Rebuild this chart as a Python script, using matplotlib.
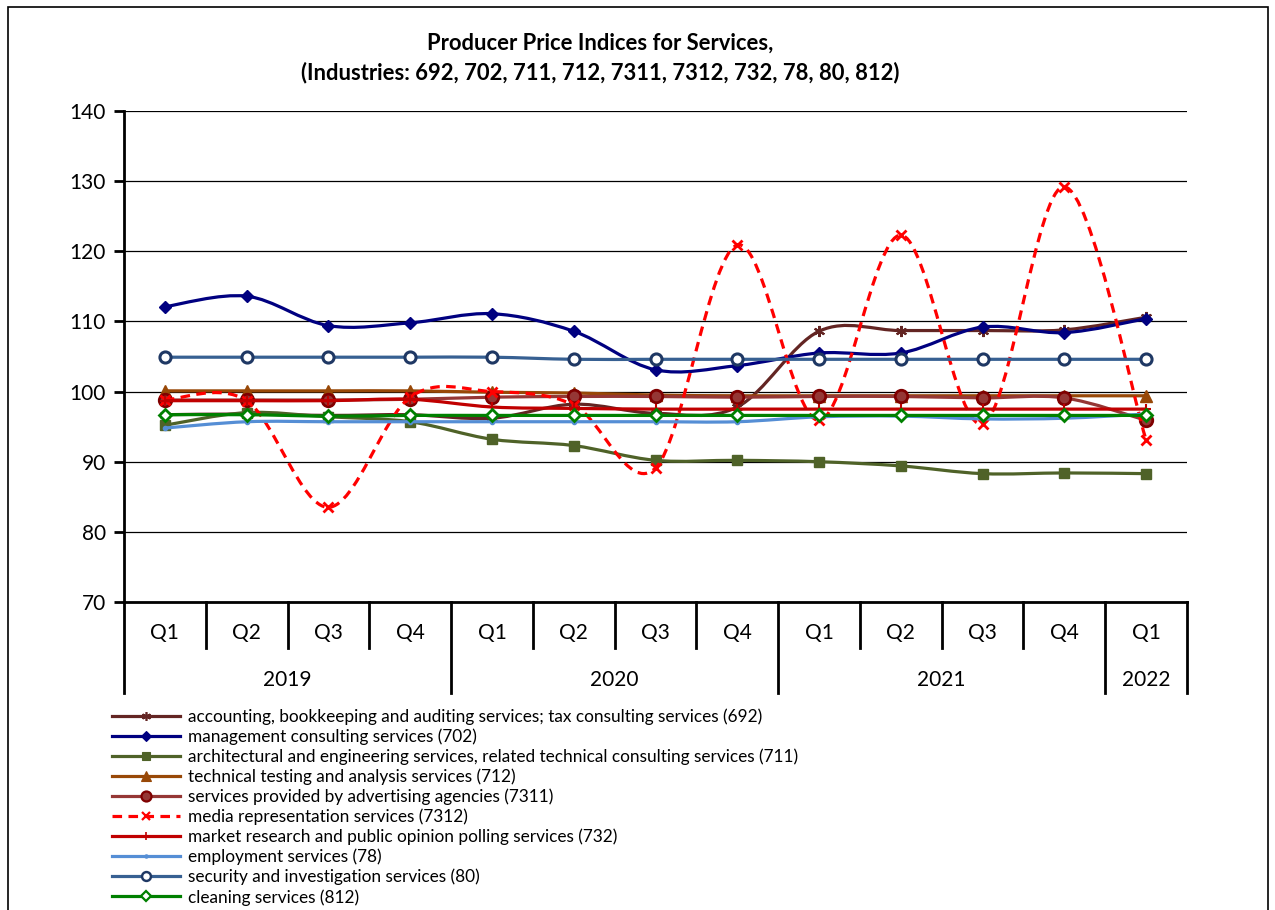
import matplotlib
matplotlib.use("Agg")
import matplotlib.pyplot as plt
from matplotlib.path import Path
from matplotlib.patches import PathPatch, Rectangle
from matplotlib.lines import Line2D
import matplotlib.transforms as mtransforms
import numpy as np

plt.rcParams['font.family'] = ['Lato', 'DejaVu Sans']

quarters = ["Q1", "Q2", "Q3", "Q4", "Q1", "Q2", "Q3", "Q4", "Q1", "Q2", "Q3", "Q4", "Q1"]
years = ["2019", "2020", "2021", "2022"]
year_spans = [4, 4, 4, 1]

s692 = [96.7, 96.8, 96.6, 96.7, 96.2, 98.2, 96.9, 97.8, 108.6, 108.7, 108.7, 108.8, 110.6]
s702 = [112.1, 113.6, 109.4, 109.8, 111.1, 108.6, 103.1, 103.7, 105.5, 105.5, 109.2, 108.4, 110.4]
s711 = [95.2, 97.0, 96.4, 95.7, 93.2, 92.3, 90.2, 90.2, 90.0, 89.4, 88.3, 88.4, 88.3]
s712 = [100.1, 100.1, 100.1, 100.1, 99.9, 99.8, 99.5, 99.4, 99.4, 99.4, 99.4, 99.4, 99.4]
s7311 = [98.8, 98.8, 98.8, 98.9, 99.2, 99.3, 99.3, 99.2, 99.3, 99.3, 99.1, 99.1, 95.9]
s7312 = [98.8, 98.7, 83.5, 99.2, 100.0, 98.1, 89.1, 120.9, 95.9, 122.3, 95.4, 129.2, 93.1]
s732 = [98.7, 98.7, 98.7, 98.9, 97.8, 97.6, 97.5, 97.5, 97.5, 97.5, 97.5, 97.5, 97.5]
s78 = [94.8, 95.7, 95.7, 95.7, 95.7, 95.7, 95.7, 95.7, 96.4, 96.5, 96.1, 96.2, 96.8]
s80 = [104.9, 104.9, 104.9, 104.9, 104.9, 104.6, 104.6, 104.6, 104.6, 104.6, 104.6, 104.6, 104.6]
s812 = [96.7, 96.7, 96.5, 96.6, 96.6, 96.6, 96.6, 96.6, 96.6, 96.6, 96.6, 96.6, 96.6]

labels = [
    "accounting, bookkeeping and auditing services; tax consulting services (692)",
    "management consulting services (702)",
    "architectural and engineering services, related technical consulting services (711)",
    "technical testing and analysis services (712)",
    "services provided by advertising agencies (7311)",
    "media representation services (7312)",
    "market research and public opinion polling services (732)",
    "employment services (78)",
    "security and investigation services (80)",
    "cleaning services (812)",
]

series = [s692, s702, s711, s712, s7311, s7312, s732, s78, s80, s812]

styles = [
    dict(color="#632523", ls="-", marker=(6, 2, 0), ms=8, mfc="#632523", mec="#632523", mew=1.5),
    dict(color="#000080", ls="-", marker="D", ms=6, mfc="#000080", mec="#000080", mew=1),
    dict(color="#4F6228", ls="-", marker="s", ms=7, mfc="#4F6228", mec="#4F6228", mew=1),
    dict(color="#984807", ls="-", marker="^", ms=9, mfc="#984807", mec="#984807", mew=1),
    dict(color="#953735", ls="-", marker="o", ms=9, mfc="#953735", mec="#7F0000", mew=2),
    dict(color="#FF0000", ls=(0, (3, 2)), marker="x", ms=7, mfc="#FF0000", mec="#FF0000", mew=2),
    dict(color="#C00000", ls="-", marker="+", ms=7, mfc="#C00000", mec="#C00000", mew=1.5),
    dict(color="#558ED5", ls="-", marker="o", ms=3, mfc="#558ED5", mec="#558ED5", mew=1),
    dict(color="#376092", ls="-", marker="o", ms=8, mfc="white", mec="#1F3864", mew=2.2),
    dict(color="#008000", ls="-", marker="D", ms=6, mfc="white", mec="#008000", mew=2),
]

fig = plt.figure(figsize=(12.75, 9.1), dpi=100)
W, H = 1275, 910
L, R, T, B = 124, 1187, 111, 602
ax = fig.add_axes([L / W, 1 - B / H, (R - L) / W, (B - T) / H])

# outer frame
fig.patches.append(Rectangle((8 / W, -0.01), (1268 - 8) / W, (910 - 7) / H + 0.01,
                             transform=fig.transFigure, fill=False, ec="#000000", lw=1.2))


def smooth_path(xs, ys):
    xs = np.asarray(xs, float)
    ys = np.asarray(ys, float)
    n = len(xs)
    verts = [(xs[0], ys[0])]
    codes = [Path.MOVETO]
    for i in range(n - 1):
        i0 = max(i - 1, 0)
        i3 = min(i + 2, n - 1)
        c1 = (xs[i] + (xs[i + 1] - xs[i0]) / 6, ys[i] + (ys[i + 1] - ys[i0]) / 6)
        c2 = (xs[i + 1] - (xs[i3] - xs[i]) / 6, ys[i + 1] - (ys[i3] - ys[i]) / 6)
        verts += [c1, c2, (xs[i + 1], ys[i + 1])]
        codes += [Path.CURVE4] * 3
    return Path(verts, codes)


x = np.arange(len(quarters))
handles = []
for k, (vals, st, lab) in enumerate(zip(series, styles, labels)):
    z = 3 + k * 0.1
    p = PathPatch(smooth_path(x, vals), fill=False, ec=st["color"], lw=2.3,
                  ls=st["ls"], transform=ax.transData, zorder=z, capstyle="butt")
    ax.add_patch(p)
    ax.plot(x, vals, ls="none", marker=st["marker"], ms=st["ms"], mfc=st["mfc"],
            mec=st["mec"], mew=st["mew"], zorder=z + 0.05)
    handles.append(Line2D([], [], color=st["color"], ls=st["ls"], lw=2.3,
                          marker=st["marker"], ms=st["ms"] * 0.8, mfc=st["mfc"],
                          mec=st["mec"], mew=st["mew"] * 0.8))

ax.set_xlim(-0.5, len(quarters) - 0.5)
ax.set_ylim(70, 140)
ax.set_yticks(np.arange(70, 141, 10))
ax.yaxis.grid(True, color="#000000", lw=0.9)
ax.set_axisbelow(True)
ax.set_xticks([])
for sp in ["top", "right"]:
    ax.spines[sp].set_visible(False)
ax.spines["left"].set_linewidth(2)
ax.spines["bottom"].set_linewidth(2)
ax.tick_params(axis="y", direction="out", length=7, width=2, labelsize=15, pad=6)

# two-level category axis
trans = mtransforms.blended_transform_factory(ax.transData, ax.transAxes)
ph = B - T
q_lab_y = -31 / ph
yr_lab_y = -78 / ph
short_y = -46 / ph
long_y = -91 / ph
for i, q in enumerate(quarters):
    ax.text(i, q_lab_y, q, transform=trans, ha="center", va="center", fontsize=15)
bounds = np.cumsum([0] + year_spans) - 0.5
year_edges = set(np.round(bounds, 2))
for i in range(len(quarters) + 1):
    xb = i - 0.5
    yb = long_y if round(xb, 2) in year_edges else short_y
    ax.add_line(Line2D([xb, xb], [0, yb], transform=trans, color="black", lw=2, clip_on=False))
for j, yr in enumerate(years):
    ax.text((bounds[j] + bounds[j + 1]) / 2, yr_lab_y, yr, transform=trans,
            ha="center", va="center", fontsize=15)

fig.text(600 / W, 1 - 43 / H, "Producer Price Indices for Services,", ha="center", va="center",
         fontsize=15.8, fontweight="bold")
fig.text(600 / W, 1 - 73 / H, "(Industries: 692, 702, 711, 712, 7311, 7312, 732, 78, 80, 812)",
         ha="center", va="center", fontsize=15.8, fontweight="bold")

leg = fig.legend(handles, labels, loc="upper left", bbox_to_anchor=(112 / W, 1 - 708 / H),
                 frameon=False, fontsize=12.45, handlelength=3.93, handletextpad=0.46,
                 labelspacing=0.205, borderaxespad=0, borderpad=0)

fig.savefig("out.png", dpi=100)
